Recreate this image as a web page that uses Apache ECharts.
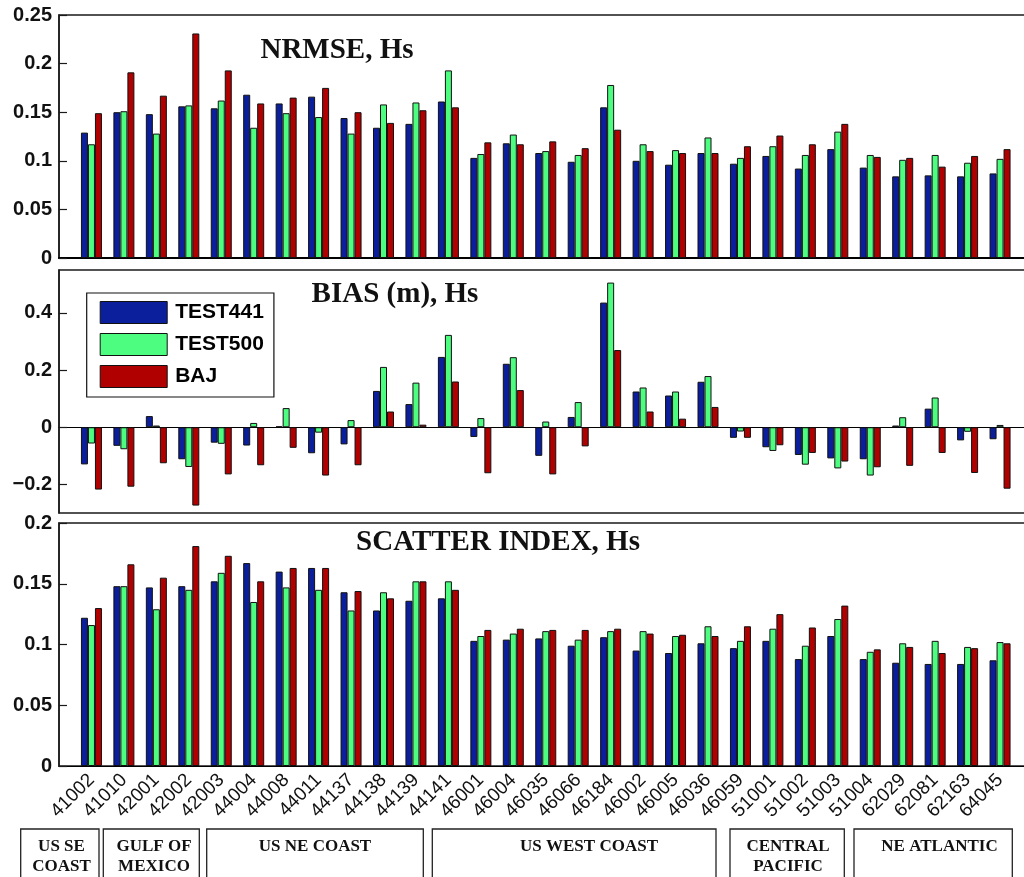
<!DOCTYPE html>
<html>
<head>
<meta charset="utf-8">
<script src="https://cdn.jsdelivr.net/npm/echarts@6/dist/echarts.min.js"></script>
<style>
  html, body { margin: 0; padding: 0; background: #ffffff; }
  #chart { width: 1024px; height: 877px; }
</style>
</head>
<body>
<div id="chart"></div>
<script>
// Buoy stations along the x axis
const stations = ['41002','41010','42001','42002','42003','44004','44008','44011','44137','44138',
  '44139','44141','46001','46004','46035','46066','46184','46002','46005','46036',
  '46059','51001','51002','51003','51004','62029','62081','62163','64045'];

const seriesNames = ['TEST441', 'TEST500', 'BAJ'];

// Normalised RMS error of significant wave height
const nrmseTest441 = [0.129,0.150,0.148,0.156,0.154,0.168,0.159,0.166,0.144,0.134,0.138,0.161,0.103,0.118,0.108,0.099,0.155,0.100,0.096,0.108,0.097,0.105,0.092,0.112,0.093,0.084,0.085,0.084,0.087];
const nrmseTest500 = [0.117,0.151,0.128,0.157,0.162,0.134,0.149,0.145,0.128,0.158,0.160,0.193,0.107,0.127,0.110,0.106,0.178,0.117,0.111,0.124,0.103,0.115,0.106,0.130,0.106,0.101,0.106,0.098,0.102];
const nrmseBaj     = [0.149,0.191,0.167,0.231,0.193,0.159,0.165,0.175,0.150,0.139,0.152,0.155,0.119,0.117,0.120,0.113,0.132,0.110,0.108,0.108,0.115,0.126,0.117,0.138,0.104,0.103,0.094,0.105,0.112];

// Bias (m) of significant wave height
const biasTest441 = [-0.130,-0.065,0.039,-0.112,-0.054,-0.064,0.003,-0.091,-0.060,0.127,0.081,0.246,-0.034,0.222,-0.100,0.036,0.436,0.125,0.111,0.159,-0.037,-0.070,-0.097,-0.109,-0.112,0.006,0.065,-0.046,-0.042];
const biasTest500 = [-0.057,-0.077,0.006,-0.139,-0.058,0.015,0.067,-0.019,0.025,0.211,0.156,0.323,0.032,0.245,0.020,0.088,0.506,0.139,0.125,0.179,-0.015,-0.083,-0.131,-0.144,-0.169,0.035,0.104,-0.016,0.008];
const biasBaj     = [-0.218,-0.208,-0.126,-0.274,-0.165,-0.133,-0.072,-0.169,-0.133,0.055,0.009,0.160,-0.161,0.130,-0.165,-0.067,0.270,0.055,0.030,0.071,-0.037,-0.063,-0.090,-0.120,-0.140,-0.135,-0.090,-0.160,-0.215];

// Scatter index of significant wave height
const siTest441 = [0.122,0.148,0.147,0.148,0.152,0.167,0.160,0.163,0.143,0.128,0.136,0.138,0.103,0.104,0.105,0.099,0.106,0.095,0.093,0.101,0.097,0.103,0.088,0.107,0.088,0.085,0.084,0.084,0.087];
const siTest500 = [0.116,0.148,0.129,0.145,0.159,0.135,0.147,0.145,0.128,0.143,0.152,0.152,0.107,0.109,0.111,0.104,0.111,0.111,0.107,0.115,0.103,0.113,0.099,0.121,0.094,0.101,0.103,0.098,0.102];
const siBaj     = [0.130,0.166,0.155,0.181,0.173,0.152,0.163,0.163,0.144,0.138,0.152,0.145,0.112,0.113,0.112,0.112,0.113,0.109,0.108,0.107,0.115,0.125,0.114,0.132,0.096,0.098,0.093,0.097,0.101];

const panelTitles = ['NRMSE, Hs', 'BIAS (m), Hs', 'SCATTER INDEX, Hs'];
const biasTicks = [-0.2, 0, 0.2, 0.4];
const regionNames = ['US SE\nCOAST', 'GULF OF\nMEXICO', 'US NE COAST', 'US WEST COAST', 'CENTRAL\nPACIFIC', 'NE ATLANTIC'];

// ---------------------------------------------------------------------------
const colors = ['#0b1f9c', '#4dfd80', '#b00000'];
const SANS = '"Liberation Sans", Arial, sans-serif';
const SERIF = '"Liberation Serif", "Times New Roman", serif';

// one empty slot at each end so bars sit at integer positions of a [0, n+1] axis
const pad = arr => [null, ...arr, null];
const axisCats = ['', ...stations, ''];

const panels = [
  [nrmseTest441, nrmseTest500, nrmseBaj],
  [biasTest441, biasTest500, biasBaj],
  [siTest441, siTest500, siBaj]
];

const gridTops = [15, 270, 523];
const GRID_H = 243;
const GRID_LEFT = 59;
const GRID_W = 973.5;

const grids = gridTops.map(t => ({
  left: GRID_LEFT, top: t, width: GRID_W, height: GRID_H,
  outerBoundsMode: 'none', containLabel: false,
  show: true, borderColor: '#1a1a1a', borderWidth: 1.5, backgroundColor: '#ffffff'
}));

const xAxes = gridTops.map((t, i) => ({
  type: 'category', gridIndex: i, data: axisCats, boundaryGap: false,
  axisLine: { show: true, onZero: true, lineStyle: { color: '#000', width: i === 0 ? 2.2 : 1.2 } },
  axisTick: { show: false },
  splitLine: { show: false },
  axisLabel: i === 2 ? {
    show: true, interval: 0, rotate: 45, margin: 11,
    fontFamily: SANS, fontSize: 19, color: '#111'
  } : { show: false }
}));

const yLabel = {
  fontFamily: SANS, fontSize: 20, fontWeight: 'bold', color: '#111', margin: 7
};
const yCommon = {
  type: 'value', splitLine: { show: false },
  axisLine: { show: true, lineStyle: { color: '#1a1a1a', width: 1.5 } },
  axisTick: { show: true, inside: true, length: 8, lineStyle: { color: '#1a1a1a', width: 1.2 } }
};

const yAxes = [
  Object.assign({}, yCommon, { gridIndex: 0, min: 0, max: 0.25, interval: 0.05, axisLabel: yLabel }),
  Object.assign({}, yCommon, {
    gridIndex: 1, min: -0.3, max: 0.55,
    axisTick: Object.assign({}, yCommon.axisTick, { customValues: biasTicks }),
    axisLabel: Object.assign({}, yLabel, {
      customValues: biasTicks,
      formatter: v => (v < 0 ? '\u2212' : '') + String(Math.abs(Math.round(v * 100) / 100))
    })
  }),
  Object.assign({}, yCommon, { gridIndex: 2, min: 0, max: 0.2, interval: 0.05, axisLabel: yLabel })
];

const series = [];
panels.forEach((vals, p) => {
  vals.forEach((v, k) => {
    series.push({
      name: seriesNames[k], type: 'bar', xAxisIndex: p, yAxisIndex: p,
      data: pad(v), barWidth: 7, barGap: '0%',
      itemStyle: { color: colors[k], borderColor: '#111', borderWidth: 1 },
      emphasis: { disabled: true }
    });
  });
});

// panel headings
const titleGraphics = [
  { x: 337, y: 51, size: 29 },
  { x: 395, y: 295, size: 29 },
  { x: 498, y: 543, size: 29 }
].map((g, i) => ({
  type: 'text', z: 100,
  style: { text: panelTitles[i], x: g.x, y: g.y, align: 'center', verticalAlign: 'middle',
    font: 'bold ' + g.size + 'px ' + SERIF, fill: '#111' }
}));

// region boxes under the station labels
const regionBoxes = [
  { x0: 20.7, x1: 99,    tx: 61.5 },
  { x0: 103.3, x1: 199.3, tx: 154 },
  { x0: 206.7, x1: 423.3, tx: 315 },
  { x0: 432.3, x1: 716,   tx: 589 },
  { x0: 730,   x1: 844.3, tx: 788 },
  { x0: 854,   x1: 1012.3, tx: 939.5 }
];
const regionGraphics = [];
regionBoxes.forEach((b, i) => {
  regionGraphics.push({
    type: 'rect', z: 100,
    shape: { x: b.x0, y: 829, width: b.x1 - b.x0, height: 70 },
    style: { fill: 'none', stroke: '#222', lineWidth: 1.3 }
  });
  regionGraphics.push({
    type: 'text', z: 101,
    style: { text: regionNames[i], x: b.tx, y: 837, align: 'center', verticalAlign: 'top',
      font: 'bold 17px ' + SERIF, fill: '#111', lineHeight: 20 }
  });
});

const chart = echarts.init(document.getElementById('chart'), null, { renderer: 'canvas' });
chart.setOption({
  animation: false,
  backgroundColor: '#ffffff',
  grid: grids,
  xAxis: xAxes,
  yAxis: yAxes,
  legend: {
    data: seriesNames, orient: 'vertical', left: 86.7, top: 293,
    padding: [8, 10, 9, 13], itemWidth: 67, itemHeight: 22, itemGap: 9,
    icon: 'rect', selectedMode: false,
    borderColor: '#111', borderWidth: 1.2, backgroundColor: '#ffffff',
    itemStyle: { borderColor: '#111', borderWidth: 1 },
    textStyle: { fontFamily: SANS, fontSize: 21, fontWeight: 'bold', color: '#000', padding: [0, 0, 0, 3] }
  },
  series: series,
  graphic: titleGraphics.concat(regionGraphics)
});
</script>
</body>
</html>
